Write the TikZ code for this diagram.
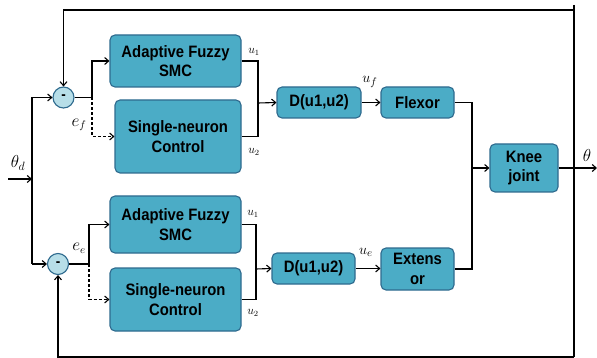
\documentclass[tikz,border=0pt]{standalone}
\usepackage{fontspec}
\setmainfont[FakeStretch=0.9]{Liberation Sans}
\usetikzlibrary{arrows.meta}
\definecolor{blockfill}{HTML}{4BACC6}
\definecolor{blockedge}{HTML}{2E6A8E}
\definecolor{sumfill}{HTML}{B7DEE8}
\begin{document}
\begin{tikzpicture}[x=1pt,y=-1pt,
  block/.style={draw=blockedge,fill=blockfill,line width=1.1pt,rounded corners=5pt,
    align=center,font=\fontsize{16.5}{19.5}\selectfont\bfseries,inner sep=0pt},
  sumnode/.style={draw=blockedge,fill=sumfill,circle,line width=1.1pt,minimum size=21pt,
    inner sep=0pt,font=\fontsize{15}{15}\selectfont\bfseries},
  wire/.style={line width=1.1pt,-{Straight Barb[length=4pt,width=7pt]}},
  plain/.style={line width=1.1pt},
  dwire/.style={line width=1.1pt,dashed,dash pattern=on 3pt off 2pt,-{Straight Barb[length=4pt,width=7pt]}},
  lbl/.style={inner sep=0pt}]
\useasboundingbox (0,0) rectangle (597,358);

% blocks of the flexor channel
\node[block,minimum width=131pt,minimum height=52pt] (afs1) at (175.5,61) {Adaptive Fuzzy\\SMC};
\node[block,minimum width=126pt,minimum height=73pt] (sn1) at (178,136.5) {Single-neuron\\Control};
\node[block,minimum width=84pt,minimum height=31pt] (d1) at (319,102.5) {D(u1,u2)};
\node[block,minimum width=73pt,minimum height=31pt] (flex) at (417.5,102.5) {Flexor};

% blocks of the extensor channel
\node[block,minimum width=131pt,minimum height=57pt] (afs2) at (175.5,224.5) {Adaptive Fuzzy\\SMC};
\node[block,minimum width=131pt,minimum height=63pt] (sn2) at (175.5,299.5) {Single-neuron\\Control};
\node[block,minimum width=83pt,minimum height=31pt] (d2) at (313.5,268.5) {D(u1,u2)};
\node[block,minimum width=73pt,minimum height=42pt] (ext) at (417.5,269) {Extens\\or};

% plant
\node[block,minimum width=68pt,minimum height=48pt] (knee) at (524,168) {Knee\\joint};

% summing junctions
\node[sumnode] (s1) at (63.5,97.5) {-};
\node[sumnode] (s2) at (58,264) {-};

% helper points
\coordinate (in) at (8,179);
\coordinate (split) at (32,179);
\coordinate (b1) at (92,97.5);
\coordinate (b2) at (89,264);
\coordinate (m1) at (258,103);
\coordinate (m2) at (256,269);
\coordinate (j) at (472,168);
\coordinate (fbtop) at (574,10);
\coordinate (fbbot) at (574,357);
\coordinate (out) at (597,168);

% reference input and its split
\draw[wire] (in) -- (split);
\draw[plain] (32,97.5) -- (32,264);
\draw[wire] (32,97.5) -- (s1.west);
\draw[wire] (32,264) -- (s2.west);

% feedback loops
\draw[plain] (574,5) -- (fbbot);
\draw[wire] (fbtop) -- (63.5,10) -- (s1.north);
\draw[wire] (fbbot) -- (58,357) -- (s2.south);

% flexor channel wiring
\draw[plain] (s1.east) -- (b1);
\draw[wire] (b1) |- (afs1.west);
\draw[dwire] (b1) |- (sn1.west);
\draw[plain] (afs1.east) -| (m1);
\draw[plain] (sn1.east) -| (m1);
\draw[wire] (m1) -- (d1.west);
\draw[wire] (d1.east) -- (flex.west);

% extensor channel wiring
\draw[plain] (s2.east) -- (b2);
\draw[wire] (b2) |- (afs2.west);
\draw[dwire] (b2) |- (sn2.west);
\draw[plain] (afs2.east) -| (m2);
\draw[plain] (sn2.east) -| (m2);
\draw[wire] (m2) -- (d2.west);
\draw[wire] (d2.east) -- (ext.west |- d2.east);

% muscles to joint
\draw[plain] (flex.east) -| (j);
\draw[plain] (ext.east) -| (j);
\draw[wire] (j) -- (knee.west);
\draw[wire] (knee.east) -- (out);

% signal labels
\node[lbl,font=\fontsize{17}{17}\selectfont] at (18,163) {$\theta_d$};
\node[lbl,font=\fontsize{17}{17}\selectfont] at (587,156) {$\theta$};
\node[lbl,font=\fontsize{16}{16}\selectfont] at (79,125) {$e_f$};
\node[lbl,font=\fontsize{16}{16}\selectfont] at (79,248) {$e_e$};
\node[lbl,font=\fontsize{12}{12}\selectfont] at (254,52) {$u_1$};
\node[lbl,font=\fontsize{12}{12}\selectfont] at (254,152) {$u_2$};
\node[lbl,font=\fontsize{12}{12}\selectfont] at (253,214) {$u_1$};
\node[lbl,font=\fontsize{12}{12}\selectfont] at (253,313) {$u_2$};
\node[lbl,font=\fontsize{15}{15}\selectfont] at (370,82) {$u_f$};
\node[lbl,font=\fontsize{15}{15}\selectfont] at (366,252) {$u_e$};
\end{tikzpicture}
\end{document}
